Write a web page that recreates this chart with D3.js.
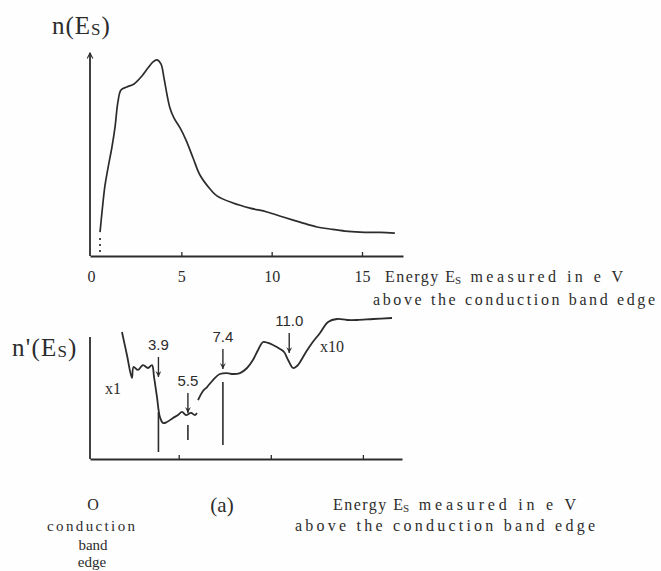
<!DOCTYPE html>
<html>
<head>
<meta charset="utf-8">
<script src="https://cdn.jsdelivr.net/npm/d3@7"></script>
<style>
  html, body { margin: 0; padding: 0; background: #fefefe; }
  svg { display: block; }
</style>
</head>
<body>
<svg id="chart" width="661" height="571"></svg>
<script>
// Upper panel: secondary-electron energy distribution n(E_S)
const topEnergy = [0.50, 0.61, 0.77, 0.94, 1.16, 1.33, 1.49, 1.66, 1.99, 2.38,
                   2.82, 3.15, 3.43, 3.65, 3.87, 4.04, 4.21, 4.37, 4.59, 4.93,
                   5.26, 5.65, 6.03, 6.59, 6.97, 7.86, 8.80, 9.74, 10.63, 11.57,
                   12.51, 13.23, 14.06, 14.89, 15.99, 16.82];
const topDensity = [11.8, 21.7, 34.5, 43.3, 53.7, 63.5, 75.9, 81.8, 83.3, 84.7,
                    88.7, 92.6, 95.6, 96.6, 94.6, 87.7, 79.3, 72.9, 68.0, 63.1,
                    57.1, 48.3, 39.9, 33.0, 29.6, 26.1, 23.6, 21.7, 19.2, 16.7,
                    14.3, 13.3, 12.3, 11.8, 11.6, 11.3];
// dotted onset of the distribution near the band edge
const onsetEnergy = [0.5, 0.5];
const onsetDensity = [2, 10];

// Lower panel: derivative n'(E_S), low-energy part at gain x1
const x1Energy = [1.92, 2.19, 2.46, 2.55, 2.79, 3.06, 3.33, 3.55, 3.66, 3.82,
                  3.98, 4.15, 4.36, 4.69, 4.96, 5.18, 5.39, 5.67, 5.88, 5.99];
const x1Deriv = [90.7, 74.3, 57.9, 65.7, 63.6, 67.1, 65.0, 67.1, 58.6, 44.3,
                 30.0, 25.7, 26.4, 29.3, 31.4, 33.6, 31.4, 32.9, 31.4, 32.9];
// ... and the remainder at gain x10
const x10Energy = [6.05, 6.32, 6.54, 6.86, 7.24, 7.62, 7.95, 8.33, 8.71, 9.03,
                   9.31, 9.58, 9.85, 10.12, 10.50, 10.72, 10.94, 11.21, 11.42, 11.59,
                   11.91, 12.24, 12.67, 13.11, 13.60, 14.14, 14.68, 15.55, 16.58];
const x10Deriv = [42.1, 48.6, 51.4, 56.4, 60.7, 61.4, 60.7, 61.4, 65.0, 70.7,
                  77.9, 83.6, 82.9, 81.4, 78.6, 76.4, 70.7, 65.0, 66.4, 69.3,
                  76.4, 82.9, 90.0, 97.9, 100.0, 99.3, 99.3, 100.0, 100.7];

// Structure energies marked by arrows (eV) and where each arrow meets the trace
const peakEnergies = [3.9, 5.5, 7.4, 11.0];
const peakLabels = ["3.9", "5.5", "7.4", "11.0"];
const peakArrowTips = [58.6, 32.9, 64.3, 75.7];

// Vertical marker bars under the first three structures
const barEnergies = [3.9, 5.5, 7.4];
const barTops = [33.6, 24.3, 55.0];
const barBottoms = [5.0, 13.6, 10.0];

// Energy axis ticks
const tickValues = [0, 5, 10, 15];
const tickLabels = ["0", "5", "10", "15"];
const minorTicks = [5, 10, 15];

const ink = "#2c2c2c";
const serif = "'Liberation Serif', 'DejaVu Serif', serif";
const sans = "'Liberation Sans', Arial, sans-serif";

const svg = d3.select("#chart");

// Stretch a label's letter spacing so it spans the given width
function spread(sel, width) {
  return sel.attr("textLength", width).attr("lengthAdjust", "spacing");
}

// "Energy E_S measured in e V" with a lowered small-capital S, built from three runs
function energyTitle(x, y, width) {
  const g = svg.append("g");
  const parts = [["Energy E", 16, 0], ["S", 11, 2], [" measured in e V", 16, 0]];
  const widths = [70, 8, width - 78];
  let cx = x;
  parts.forEach(([s, size, dy], i) => {
    const t = g.append("text").attr("x", cx).attr("y", y + dy)
      .attr("font-family", serif).attr("font-size", size).attr("fill", ink)
      .style("white-space", "pre").text(s);
    if (s.length > 1) spread(t, widths[i]);
    cx += widths[i];
  });
  return g;
}

// ---------- scales ----------
const xTop = d3.scaleLinear().domain([0, 15]).range([91, 362]);
const yTop = d3.scaleLinear().domain([0, 100]).range([256, 53]);
const xBot = d3.scaleLinear().domain([0, 15]).range([86.6, 362.9]);
const yBot = d3.scaleLinear().domain([0, 100]).range([459, 319]);

const smooth = d3.curveCatmullRom.alpha(0.5);

// arrowheads
const defs = svg.append("defs");
defs.append("marker").attr("id", "axisHead")
  .attr("viewBox", "0 0 10 10").attr("refX", 9).attr("refY", 5)
  .attr("markerWidth", 8).attr("markerHeight", 7).attr("markerUnits", "userSpaceOnUse")
  .attr("orient", "auto")
  .append("path").attr("d", "M1,1 L9,5 L1,9").attr("fill", "none")
  .attr("stroke", ink).attr("stroke-width", 1.6);
defs.append("marker").attr("id", "peakHead")
  .attr("viewBox", "0 0 10 10").attr("refX", 5).attr("refY", 10)
  .attr("markerWidth", 6).attr("markerHeight", 8).attr("markerUnits", "userSpaceOnUse")
  .attr("orient", "0")
  .append("path").attr("d", "M0,0 L5,10 L10,0 L5,4 Z").attr("fill", ink);

// ---------- upper panel ----------
const topAxisScale = xTop.copy().domain([xTop.invert(90), xTop.invert(403)]).range([90, 403]);
const gTopX = svg.append("g").attr("transform", `translate(0,${yTop(0)})`)
  .call(d3.axisBottom(topAxisScale).tickValues(tickValues)
    .tickFormat((d, i) => tickLabels[i]).tickSize(-4).tickSizeOuter(0).tickPadding(15));
gTopX.select(".domain").attr("stroke", ink).attr("stroke-width", 1.8);
gTopX.selectAll(".tick line").attr("stroke", ink).attr("stroke-width", 1.3)
  .attr("opacity", d => d === 0 ? 0 : 1);
gTopX.selectAll(".tick text").attr("font-family", serif).attr("font-size", 16).attr("fill", ink);

svg.append("line")
  .attr("x1", 90).attr("x2", 90).attr("y1", yTop(0)).attr("y2", yTop(100))
  .attr("stroke", ink).attr("stroke-width", 1.8).attr("marker-end", "url(#axisHead)");

const topLine = d3.line().x((d, i) => xTop(topEnergy[i])).y(d => yTop(d)).curve(smooth);
svg.append("path").datum(topDensity).attr("d", topLine)
  .attr("fill", "none").attr("stroke", ink).attr("stroke-width", 1.7);
svg.append("path").datum(onsetDensity)
  .attr("d", d3.line().x((d, i) => xTop(onsetEnergy[i])).y(d => yTop(d)))
  .attr("fill", "none").attr("stroke", ink).attr("stroke-width", 1.7)
  .attr("stroke-dasharray", "2,4");

// axis titles, upper panel
const nLabel = svg.append("text").attr("x", 52).attr("y", 34)
  .attr("font-family", serif).attr("font-size", 25).attr("fill", ink);
nLabel.append("tspan").text("n(E");
nLabel.append("tspan").attr("font-size", 17).attr("dy", 1).text("S");
nLabel.append("tspan").attr("dy", -1).text(")");
nLabel.attr("letter-spacing", 1);

energyTitle(385, 282, 238);
spread(svg.append("text").attr("x", 373).attr("y", 305)
  .attr("font-family", serif).attr("font-size", 16).attr("fill", ink)
  .text("above the conduction band edge"), 282);

// ---------- lower panel ----------
const botAxisScale = xBot.copy().domain([xBot.invert(90), xBot.invert(402)]).range([90, 402]);
const gBotX = svg.append("g").attr("transform", `translate(0,${yBot(0)})`)
  .call(d3.axisBottom(botAxisScale).tickValues(minorTicks).tickFormat("")
    .tickSize(-4).tickSizeOuter(0));
gBotX.select(".domain").attr("stroke", ink).attr("stroke-width", 1.8);
gBotX.selectAll(".tick line").attr("stroke", ink).attr("stroke-width", 1.3);

svg.append("line")
  .attr("x1", 90).attr("x2", 90).attr("y1", yBot(0)).attr("y2", 337)
  .attr("stroke", ink).attr("stroke-width", 1.8);

const x1Line = d3.line().x((d, i) => xBot(x1Energy[i])).y(d => yBot(d)).curve(smooth);
svg.append("path").datum(x1Deriv).attr("d", x1Line)
  .attr("fill", "none").attr("stroke", ink).attr("stroke-width", 1.8);
const x10Line = d3.line().x((d, i) => xBot(x10Energy[i])).y(d => yBot(d)).curve(smooth);
svg.append("path").datum(x10Deriv).attr("d", x10Line)
  .attr("fill", "none").attr("stroke", ink).attr("stroke-width", 1.8);

// marker bars
svg.append("g").selectAll("line").data(barEnergies).join("line")
  .attr("x1", d => xBot(d)).attr("x2", d => xBot(d))
  .attr("y1", (d, i) => yBot(barTops[i])).attr("y2", (d, i) => yBot(barBottoms[i]))
  .attr("stroke", ink).attr("stroke-width", 1.6);

// structure arrows and their energies
const arrowLen = 20;
const arrows = svg.append("g").selectAll("g").data(peakEnergies).join("g");
arrows.append("line")
  .attr("x1", d => xBot(d)).attr("x2", d => xBot(d))
  .attr("y1", (d, i) => yBot(peakArrowTips[i]) - arrowLen)
  .attr("y2", (d, i) => yBot(peakArrowTips[i]))
  .attr("stroke", ink).attr("stroke-width", 1.4).attr("marker-end", "url(#peakHead)");
arrows.append("text")
  .attr("x", d => xBot(d)).attr("y", (d, i) => yBot(peakArrowTips[i]) - arrowLen - 7)
  .attr("text-anchor", "middle").attr("font-family", sans).attr("font-size", 15)
  .attr("fill", ink).text((d, i) => peakLabels[i]);

// gain labels
svg.append("text").attr("x", 105).attr("y", 394).attr("font-family", serif)
  .attr("font-size", 16).attr("fill", ink).text("x1");
svg.append("text").attr("x", 320).attr("y", 352).attr("font-family", serif)
  .attr("font-size", 16).attr("fill", ink).text("x10");

const nPrime = svg.append("text").attr("x", 12).attr("y", 356)
  .attr("font-family", serif).attr("font-size", 25).attr("fill", ink);
nPrime.append("tspan").text("n'(E");
nPrime.append("tspan").attr("font-size", 17).attr("dy", 1).text("S");
nPrime.append("tspan").attr("dy", -1).text(")");
nPrime.attr("letter-spacing", 1.2);

// captions below the lower panel
const cap = (x, y, s, size, width) => {
  const t = svg.append("text").attr("x", x).attr("y", y).attr("text-anchor", "middle")
    .attr("font-family", serif).attr("font-size", size).attr("fill", ink).text(s);
  if (width) spread(t, width);
  return t;
};
cap(93, 510, "O", 16);
cap(91, 531, "conduction", 15, 88);
cap(93, 550, "band", 15);
cap(92, 567, "edge", 15);
cap(222, 512, "(a)", 21);

energyTitle(333, 510, 243);
spread(svg.append("text").attr("x", 295).attr("y", 531)
  .attr("font-family", serif).attr("font-size", 16).attr("fill", ink)
  .text("above the conduction band edge"), 300);
</script>
</body>
</html>
